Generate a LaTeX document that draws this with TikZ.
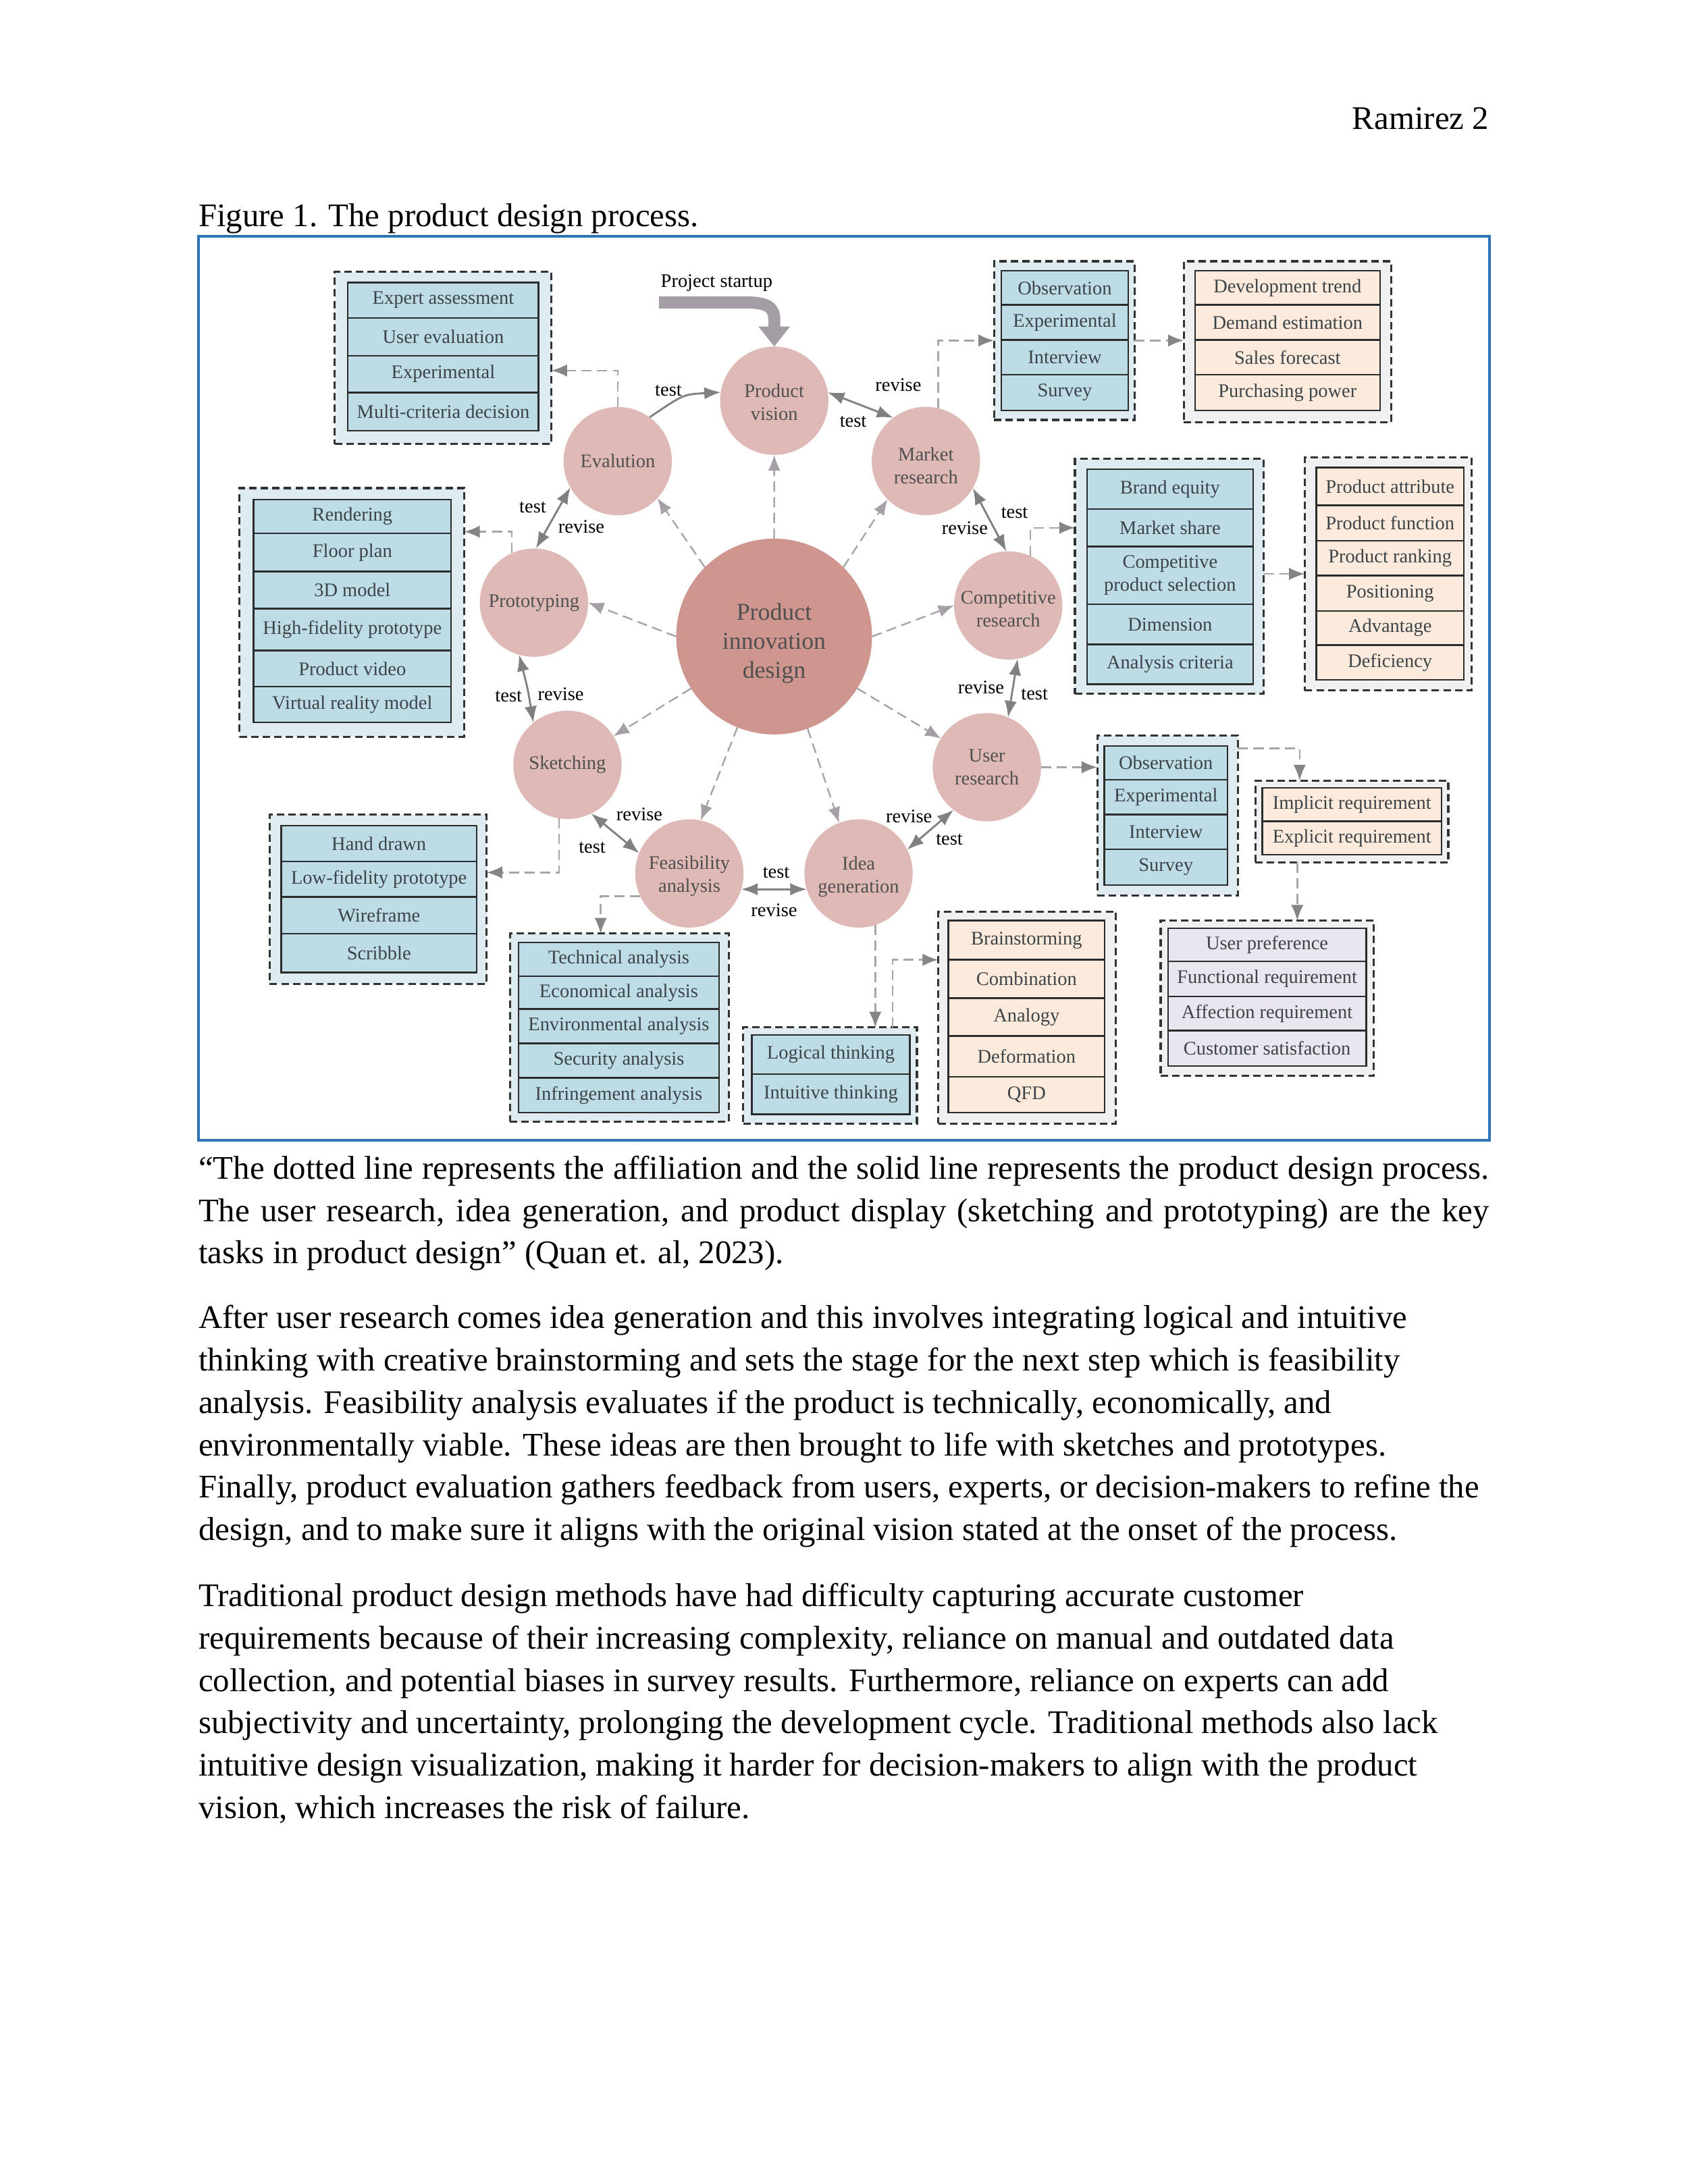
\documentclass[tikz,border=0pt]{standalone}
\usepackage{fontspec}
\setmainfont{Liberation Serif}
\usetikzlibrary{arrows.meta}
\def\U{0.17765mm}
\definecolor{gblue}{HTML}{DEECF2}
\definecolor{rblue}{HTML}{BEDCE6}
\definecolor{ggray}{HTML}{F0F0F0}
\definecolor{rpeach}{HTML}{FCEADC}
\definecolor{rlav}{HTML}{E9E6F0}
\definecolor{cpink}{HTML}{DEB9B6}
\definecolor{cbig}{HTML}{CF958F}
\definecolor{frameblue}{HTML}{2E74B5}
\definecolor{cproc}{HTML}{808080}
\definecolor{cdash}{HTML}{A6A6A6}
\definecolor{chead}{HTML}{A79FA8}
\definecolor{cgh}{HTML}{858585}
\definecolor{cstart}{HTML}{A59DA6}
\definecolor{ctxt}{HTML}{505050}
\definecolor{cbtxt}{HTML}{3C4448}
\definecolor{cline}{HTML}{2B2B2B}
\definecolor{cdashb}{HTML}{333333}
\newcommand\ff{\fontsize{7}{8.3}\selectfont}
\newcommand\fc{\fontsize{8.8}{10.6}\selectfont}
\newcommand\fb{\fontsize{12}{14}\selectfont}
\newcommand\st[1]{\rule{0pt}{#1}}
\newcommand\trow[7]{\node[trow,fill=#6,minimum width={(#4-#2)*\U},minimum height={(#5-#3)*\U}] (#1) at ({(#2+#4)/2},{(#3+#5)/2}) {#7};}
\newcommand\grp[6]{\node[grp,fill=#6,minimum width={(#4-#2)*\U},minimum height={(#5-#3)*\U}] (#1) at ({(#2+#4)/2},{(#3+#5)/2}) {};}
\begin{document}
\begin{tikzpicture}[x=0.17765mm,y=-0.17765mm,
 sc/.style={circle,fill=cpink,draw=none,minimum size=78*\U,inner sep=0pt,outer sep=0pt,font=\ff,text=ctxt,align=center},
 bc/.style={sc,fill=cbig,minimum size=141*\U,font=\fc},
 lbl/.style={font=\ff,text=black,inner sep=0pt},
 trow/.style={draw=cline,line width=0.6pt,inner sep=0pt,outer sep=0pt,font=\ff,text=cbtxt,align=center},
 grp/.style={draw=cdashb,line width=0.8pt,dash pattern=on 2.7pt off 1.5pt,inner sep=0pt,outer sep=0pt},
 proc/.style={draw=cproc,line width=0.7pt,-{Latex[length=6pt,width=4.5pt]}},
 procd/.style={draw=cproc,line width=0.7pt,{Latex[length=6pt,width=4.5pt]}-{Latex[length=6pt,width=4.5pt]}},
 dcen/.style={draw=cdash,line width=0.6pt,dash pattern=on 3.7pt off 2pt,-{Latex[length=5.7pt,width=4.5pt,color=chead]}},
 gcon/.style={draw=cdash,line width=0.6pt,dash pattern=on 3.7pt off 2pt,-{Latex[length=5.7pt,width=4.5pt,color=cgh]}},
 startup/.style={draw=cstart,line width=4.4pt,-{Triangle[length=7.3pt,width=11pt]}},
 body/.style={anchor=base west,inner sep=0pt,outer sep=0pt,font=\fb}
]
\fill[white] (0,0) rectangle (1215.3,1572.8);
\useasboundingbox (0,0) rectangle (1215.3,1572.8);

% header and caption
\node[font=\fb,anchor=base east,inner sep=0pt] (hdr) at (1072.4,93.2) {Ramirez 2};
\node[body] (cap) at (143,162.9) {Figure 1. The product design process.};

% frame
\node[draw=frameblue,line width=1pt,minimum width={(1072.5-143)*\U},minimum height={(821-170.2)*\U},inner sep=0pt,outer sep=0pt] (frame) at ({(143+1072.5)/2},{(170.2+821)/2}) {};

% groups
\grp{gE}{241.0}{195.7}{397.0}{319.8}{gblue}
\trow{eA}{250.5}{203.5}{387.8}{228.9}{rblue}{Expert assessment}
\trow{eB}{250.5}{228.9}{387.8}{256.1}{rblue}{User evaluation}
\trow{eC}{250.5}{256.1}{387.8}{282.7}{rblue}{Experimental}
\trow{eD}{250.5}{282.7}{387.8}{310.2}{rblue}{Multi-criteria decision}

\grp{gR}{172.4}{351.5}{334.2}{530.6}{gblue}
\trow{rA}{182.6}{359.9}{324.8}{384.1}{rblue}{Rendering}
\trow{rB}{182.6}{384.1}{324.8}{411.6}{rblue}{Floor plan}
\trow{rC}{182.6}{411.6}{324.8}{438.3}{rblue}{3D model}
\trow{rD}{182.6}{438.3}{324.8}{468.4}{rblue}{High-fidelity prototype}
\trow{rE}{182.6}{468.4}{324.8}{494.5}{rblue}{Product video}
\trow{rF}{182.6}{494.5}{324.8}{520.2}{rblue}{Virtual reality model}

\grp{gH}{194.2}{586.6}{350.4}{708.6}{gblue}
\trow{hA}{202.5}{594.6}{343.2}{620.3}{rblue}{Hand drawn}
\trow{hB}{202.5}{620.3}{343.2}{645.9}{rblue}{Low-fidelity prototype}
\trow{hC}{202.5}{645.9}{343.2}{672.4}{rblue}{Wireframe}
\trow{hD}{202.5}{672.4}{343.2}{700.4}{rblue}{Scribble}

\grp{gT}{367.2}{672.3}{524.8}{807.7}{gblue}
\trow{tA}{373.3}{678.8}{517.8}{703.1}{rblue}{Technical analysis}
\trow{tB}{373.3}{703.1}{517.8}{726.6}{rblue}{Economical analysis}
\trow{tC}{373.3}{726.6}{517.8}{751.3}{rblue}{Environmental analysis}
\trow{tD}{373.3}{751.3}{517.8}{776.1}{rblue}{Security analysis}
\trow{tE}{373.3}{776.1}{517.8}{801.2}{rblue}{Infringement analysis}

\grp{gL}{535.1}{739.9}{660.2}{809.1}{gblue}
\trow{lA}{541.3}{745.4}{655.2}{773.6}{rblue}{Logical thinking}
\trow{lB}{541.3}{773.6}{655.2}{802.5}{rblue}{Intuitive thinking}

\grp{gB}{675.6}{656.5}{803.5}{809.1}{ggray}
\trow{bA}{682.9}{663.0}{795.4}{691.2}{rpeach}{Brainstorming}
\trow{bB}{682.9}{691.2}{795.4}{718.8}{rpeach}{Combination}
\trow{bC}{682.9}{718.8}{795.4}{746.1}{rpeach}{Analogy}
\trow{bD}{682.9}{746.1}{795.4}{775.4}{rpeach}{Deformation}
\trow{bE}{682.9}{775.4}{795.4}{801.2}{rpeach}{QFD}

\grp{gM}{715.8}{188.1}{816.9}{302.4}{gblue}
\trow{mA}{721.1}{195.0}{812.3}{219.5}{rblue}{Observation}
\trow{mB}{721.1}{219.5}{812.3}{244.9}{rblue}{Experimental}
\trow{mC}{721.1}{244.9}{812.3}{269.9}{rblue}{Interview}
\trow{mD}{721.1}{269.9}{812.3}{295.5}{rblue}{Survey}

\grp{gD}{852.4}{188.1}{1001.7}{304.2}{ggray}
\trow{dA}{860.4}{195.0}{993.7}{219.5}{rpeach}{Development trend}
\trow{dB}{860.4}{219.5}{993.7}{244.9}{rpeach}{Demand estimation}
\trow{dC}{860.4}{244.9}{993.7}{269.9}{rpeach}{Sales forecast}
\trow{dD}{860.4}{269.9}{993.7}{295.5}{rpeach}{Purchasing power}

\grp{gBr}{774.0}{330.2}{909.9}{499.6}{gblue}
\trow{cA}{782.7}{337.8}{902.3}{366.7}{rblue}{Brand equity}
\trow{cB}{782.7}{366.7}{902.3}{393.6}{rblue}{Market share}
\trow{cC}{782.7}{393.6}{902.3}{435.1}{rblue}{Competitive\\product selection}
\trow{cD}{782.7}{435.1}{902.3}{464.1}{rblue}{Dimension}
\trow{cE}{782.7}{464.1}{902.3}{492.7}{rblue}{Analysis criteria}

\grp{gA}{939.5}{329.3}{1059.7}{497.3}{ggray}
\trow{aA}{947.9}{336.7}{1053.9}{363.9}{rpeach}{Product attribute}
\trow{aB}{947.9}{363.9}{1053.9}{389.5}{rpeach}{Product function}
\trow{aC}{947.9}{389.5}{1053.9}{414.5}{rpeach}{Product ranking}
\trow{aD}{947.9}{414.5}{1053.9}{439.9}{rpeach}{Positioning}
\trow{aE}{947.9}{439.9}{1053.9}{464.5}{rpeach}{Advantage}
\trow{aF}{947.9}{464.5}{1053.9}{489.5}{rpeach}{Deficiency}

\grp{gU}{790.1}{529.6}{891.3}{644.9}{gblue}
\trow{uA}{795.1}{537.1}{883.9}{561.6}{rblue}{Observation}
\trow{uB}{795.1}{561.6}{883.9}{586.6}{rblue}{Experimental}
\trow{uC}{795.1}{586.6}{883.9}{611.6}{rblue}{Interview}
\trow{uD}{795.1}{611.6}{883.9}{637.3}{rblue}{Survey}

\grp{gI}{903.9}{562.1}{1042.9}{621.1}{ggray}
\trow{iA}{909.0}{567.5}{1037.9}{591.4}{rpeach}{Implicit requirement}
\trow{iB}{909.0}{591.4}{1037.9}{615.6}{rpeach}{Explicit requirement}

\grp{gP}{835.7}{663.0}{989.3}{774.8}{ggray}
\trow{pA}{841.0}{668.4}{983.7}{692.2}{rlav}{User preference}
\trow{pB}{841.0}{692.2}{983.7}{717.5}{rlav}{Functional requirement}
\trow{pC}{841.0}{717.5}{983.7}{742.1}{rlav}{Affection requirement}
\trow{pD}{841.0}{742.1}{983.7}{767.8}{rlav}{Customer satisfaction}

% circles
\node[sc] (pv) at (557.5,288.6) {\st{5.8pt}Product\\vision};
\node[sc] (mr) at (666.7,332) {\st{8.3pt}Market\\research};
\node[sc] (ev) at (444.8,332.1) {Evalution};
\node[sc] (pt) at (384.5,434) {Prototyping};
\node[sc] (cr) at (726,436) {\st{7.3pt}Competitive\\research};
\node[sc] (sk) at (408.6,550.8) {Sketching};
\node[sc] (ur) at (710.6,552.5) {User\\research};
\node[sc] (fa) at (496.4,629) {\st{6.8pt}Feasibility\\analysis};
\node[sc] (ig) at (618.2,629) {\st{7.3pt}Idea\\generation};
\node[bc] (pid) at (557.4,458.4) {\st{11pt}Product\\innovation\\design};

% project startup
\node[lbl] (ps) at (516,204) {Project startup};
\coordinate (psS) at (474.5,217.8);
\draw[startup] (psS) -- (537,217.8) .. controls (552,217.8) and (557.5,221) .. (557.5,230) -- (pv.north);

% process arrows
\draw[proc] (ev.54) .. controls (492,284) .. (pv.171);
\draw[procd] (pv.9) -- (mr.127);
\draw[procd] (mr.-30) -- (cr.92);
\draw[procd] (cr.-80) -- (ur.67);
\draw[procd] (ur.-128) -- (ig.26);
\draw[procd] (fa.-17) -- (ig.-163);
\draw[procd] (sk.-64) -- (fa.158);
\draw[procd] (pt.-106) .. controls (380,496) .. (sk.129);
\draw[procd] (ev.-151) -- (pt.88);

% labels
\node[lbl] (t1) at (481.3,281.4) {test};
\node[lbl] (r2) at (646.8,277.1) {revise};
\node[lbl] (t2) at (614.3,303.7) {test};
\node[lbl] (t3) at (730.5,369.3) {test};
\node[lbl] (r3) at (694.7,380.1) {revise};
\node[lbl] (r4) at (706.4,495.1) {revise};
\node[lbl] (t4) at (744.9,499.9) {test};
\node[lbl] (r5) at (654.5,587.7) {revise};
\node[lbl] (t5) at (683.6,604.4) {test};
\node[lbl] (t6) at (558.9,628.3) {test};
\node[lbl] (r6) at (557.4,655.4) {revise};
\node[lbl] (r7) at (460.4,586.4) {revise};
\node[lbl] (t7) at (426.4,610.3) {test};
\node[lbl] (t8) at (366.2,501.5) {test};
\node[lbl] (r8) at (403.8,499.9) {revise};
\node[lbl] (t9) at (383.6,365.4) {test};
\node[lbl] (r9) at (418.6,379.1) {revise};

% central dashed arrows
\draw[dcen] (pid.90) -- (pv.-90);
\draw[dcen] (pid.135) -- (ev.-43);
\draw[dcen] (pid.45) -- (mr.-135);
\draw[dcen] (pid.180) -- (pt.0);
\draw[dcen] (pid.0) -- (cr.180);
\draw[dcen] (pid.-148) -- (sk.32);
\draw[dcen] (pid.-112) -- (fa.78);
\draw[dcen] (pid.-70) -- (ig.111);
\draw[dcen] (pid.-32) -- (ur.148);

% group connectors
\draw[gcon] (ev.90) |- (gE.east |- 0,266.8);
\draw[gcon] (pt.114) |- (gR.east |- 0,382.9);
\draw[gcon] (mr.77) |- (gM.west |- 0,245.2);
\draw[gcon] (gM.east |- 0,245.2) -- (gD.west |- 0,245.2);
\draw[gcon] (cr.66) |- (gBr.west |- 0,380.1);
\draw[gcon] (gBr.east |- 0,413.3) -- (gA.west |- 0,413.3);
\draw[gcon] (ur.0) -- (gU.west |- ur.0);
\draw[gcon] (gU.east |- 0,538.9) -| (935.8,0 |- gI.north);
\draw[gcon] (934.1,0 |- gI.south) -- (934.1,0 |- gP.north);
\draw[gcon] (sk.-99) |- (gH.east |- 0,628.3);
\draw[gcon] (fa.-155) -| (432.5,0 |- gT.north);
\draw[gcon] (ig.-72) -- (ig.-72 |- gL.north);
\draw[gcon] (642.8,0 |- gL.north) |- (gB.west |- 0,691.2);

% body text
\node[body] (p1a) at (143,849.1) {\makebox[6.5in][s]{“The dotted line represents the affiliation and the solid line represents the product design process.}};
\node[body] (p1b) at (143,879.5) {\makebox[6.5in][s]{The user research, idea generation, and product display (sketching and prototyping) are the key}};
\node[body] (p1c) at (143,909.9) {tasks in product design” (Quan et. al, 2023).};

\node[body] (p2a) at (143,956.4) {After user research comes idea generation and this involves integrating logical and intuitive};
\node[body] (p2b) at (143,987.0) {thinking with creative brainstorming and sets the stage for the next step which is feasibility};
\node[body] (p2c) at (143,1017.6) {analysis. Feasibility analysis evaluates if the product is technically, economically, and};
\node[body] (p2d) at (143,1048.2) {environmentally viable. These ideas are then brought to life with sketches and prototypes.};
\node[body] (p2e) at (143,1078.8) {Finally, product evaluation gathers feedback from users, experts, or decision-makers to refine the};
\node[body] (p2f) at (143,1109.2) {design, and to make sure it aligns with the original vision stated at the onset of the process.};

\node[body] (p3a) at (143,1157.0) {Traditional product design methods have had difficulty capturing accurate customer};
\node[body] (p3b) at (143,1187.5) {requirements because of their increasing complexity, reliance on manual and outdated data};
\node[body] (p3c) at (143,1218.0) {collection, and potential biases in survey results. Furthermore, reliance on experts can add};
\node[body] (p3d) at (143,1248.5) {subjectivity and uncertainty, prolonging the development cycle. Traditional methods also lack};
\node[body] (p3e) at (143,1279.0) {intuitive design visualization, making it harder for decision-makers to align with the product};
\node[body] (p3f) at (143,1309.3) {vision, which increases the risk of failure.};
\end{tikzpicture}
\end{document}
